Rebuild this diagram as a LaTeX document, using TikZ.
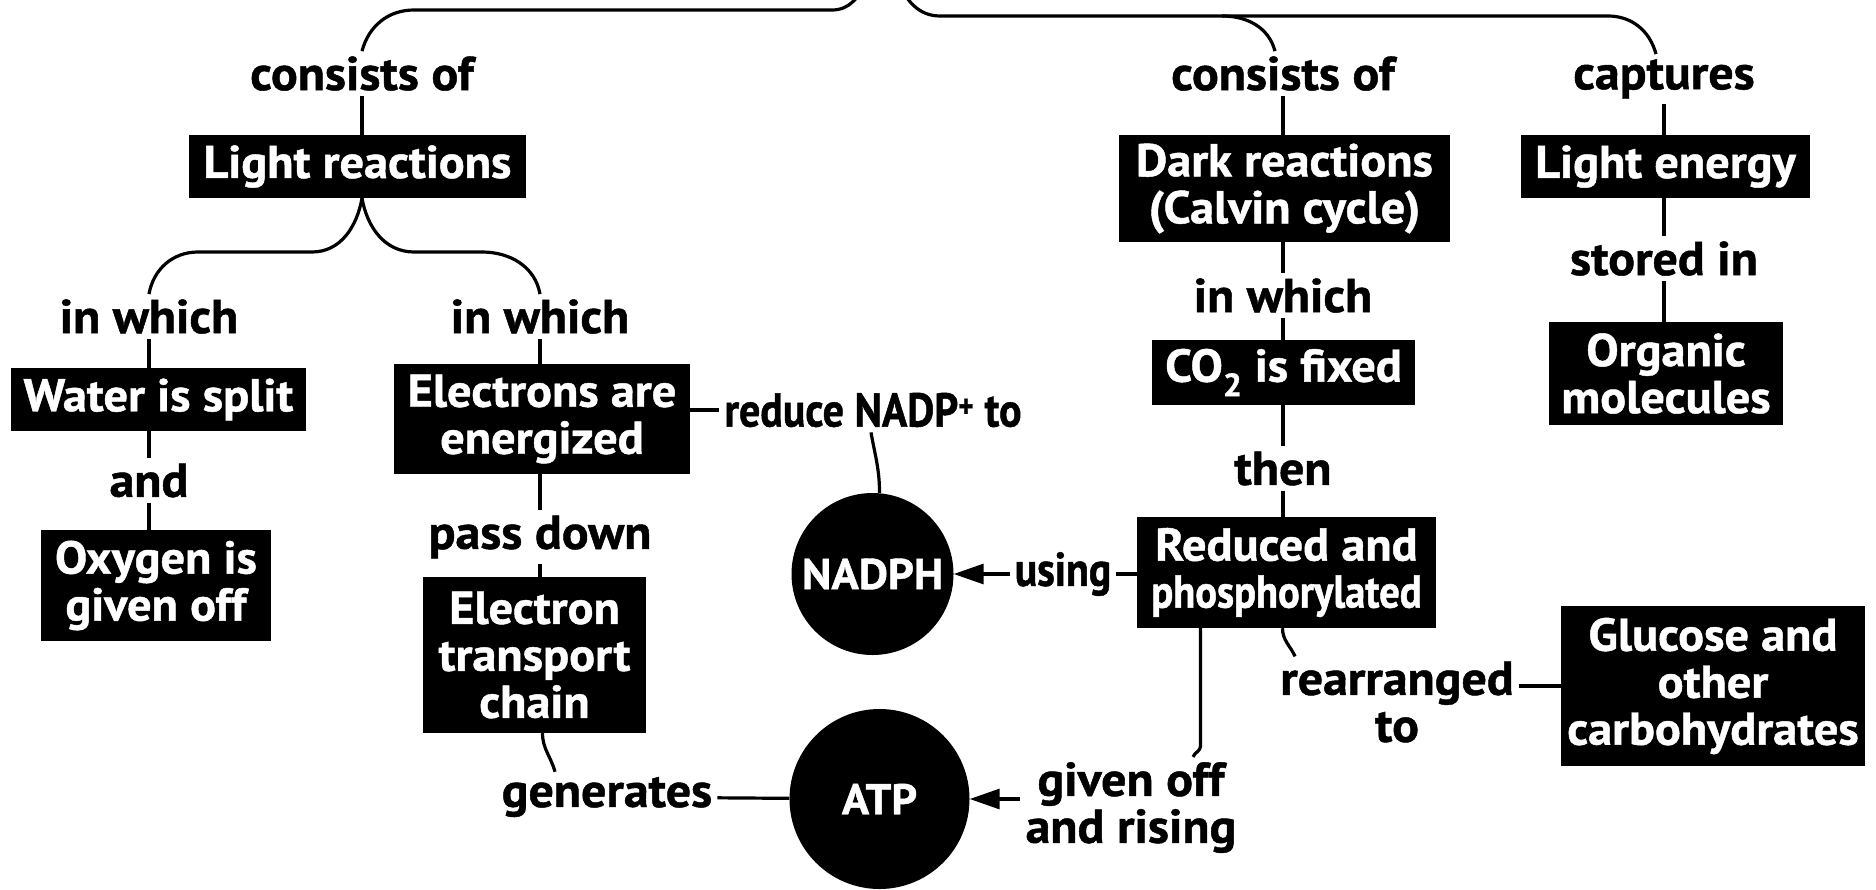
\documentclass[tikz,border=0pt]{standalone}
\usepackage{fontspec}
\setmainfont{PT Sans}[FakeStretch=1.05,BoldFeatures={FakeBold=1.0}]
\newfontfamily\narrowsans{PT Sans}[FakeStretch=0.88,BoldFeatures={FakeBold=1.0}]
\usepackage{tikz}
\usetikzlibrary{arrows.meta}
\newcommand{\mapfont}{\fontsize{47.5}{47}\selectfont\bfseries}
\newcommand{\boxfont}{\fontsize{46}{47}\selectfont\bfseries}
\newcommand{\discfont}{\fontsize{43}{47}\selectfont\bfseries}

\begin{document}
\begin{tikzpicture}[x=1pt,y=-1pt]
\tikzset{concept/.style = {fill=black,text=white,font=\boxfont,align=center,inner xsep=6pt,inner ysep=8.5pt}}
\tikzset{link/.style = {font=\mapfont,align=center,inner sep=5pt}}
\tikzset{disc/.style = {shape=circle,fill=black,text=white,font=\discfont,inner sep=0pt}}
\tikzset{dims/.style 2 args = {minimum width=#1pt,minimum height=#2pt}}
\tikzset{edge/.style = {-,line width=3.2pt,> = {Triangle[length=30pt,width=20pt]}}}

\useasboundingbox (0,0) rectangle (1876,889);
\clip (0,0) rectangle (1876,889);

% concepts
\node[concept,dims={337}{63}]  (light)   at (357.5,166.5) {Light reactions};
\node[concept,dims={295}{63}]  (water)   at (158.5,399.5) {Water is split};
\node[concept,dims={296}{110}] (elec)    at (542,419)     {Electrons are\\energized};
\node[concept,dims={230}{111}] (oxy)     at (156,585.5)   {Oxygen is\\given off};
\node[concept,dims={223}{156}] (etc)     at (534.5,655)   {Electron\\transport\\chain};
\node[concept,dims={331}{107}] (dark)    at (1284.5,188.5){Dark reactions\\(Calvin cycle)};
\node[concept,dims={263}{59}]  (co2)     at (1283.5,372.5){CO\textsubscript{2} is fixed};
\node[concept,dims={299}{111}] (reduc)   at (1286.5,572.5){Reduced and\\{\narrowsans\bfseries phosphorylated}};
\node[concept,dims={289}{63}]  (lighte)  at (1665.5,166.5){Light energy};
\node[concept,dims={234}{103}] (organic) at (1666,373.5)  {Organic\\molecules};
\node[concept,dims={300}{160}] (gluc)    at (1713,686)    {Glucose and\\other\\carbohydrates};

\node[disc,minimum size=162pt] (nadph) at (872.5,574) {NADPH};
\node[disc,minimum size=180pt] (atp)   at (879.5,799) {ATP};

% linking words
\node[link] (cons1)  at (362,73.5)   {consists of};
\node[link] (inw1)   at (149,316.5)  {in which};
\node[link] (inw2)   at (540,316.5)  {in which};
\node[link] (and1)   at (149,480.5)  {and};
\node[link] (pass)   at (540,537)    {pass down};
\node[link] (gen)    at (607,797)    {generates};
\node[link] (redu)   at (873,410)    {\narrowsans\bfseries reduce NADP\textsuperscript{+} to};
\node[link] (using)  at (1063,574)   {\narrowsans\bfseries using};
\node[link] (cons2)  at (1283,73.5)  {consists of};
\node[link] (inw3)   at (1283,295.5) {in which};
\node[link] (then)   at (1283,468.5) {then};
\node[link] (capt)   at (1664,79)    {captures};
\node[link] (stored) at (1664,258.5) {stored in};
\node[link] (rearr)  at (1397,702)   {rearranged\\to};
\node[link] (given)  at (1131,807.5) {given off\\and rising};

\coordinate (topL)  at (866,-20);
\coordinate (topR)  at (898,-20);
\coordinate (forkR) at (1222,16);

% top bracket
\draw[edge] (topL) to[out=-110,in=0] (832,10) -- (414,10) to[out=180,in=75] (cons1.north);
\draw[edge] (topR) to[out=-70,in=180] (940,16) -- (1608,16) to[out=0,in=105] ([xshift=-8pt]capt.north);
\draw[edge] (forkR) to[out=0,in=105] ([xshift=-8pt]cons2.north);

% light reactions
\draw[edge] (cons1) -- (cons1 |- light.north);
\draw[edge] (light.south -| cons1) to[out=-100,in=0] (312,252) -- (198,252) to[out=180,in=80] (inw1.north);
\draw[edge] (light.south -| cons1) to[out=-80,in=180] (414,252) -- (482,252) to[out=0,in=100] (inw2.north);
\draw[edge] (inw1) -- (inw1 |- water.north);
\draw[edge] (and1 |- water.south) -- (and1);
\draw[edge] (and1) -- (and1 |- oxy.north);
\draw[edge] (inw2) -- (inw2 |- elec.north);
\draw[edge] (pass |- elec.south) -- (pass);
\draw[edge] (pass) -- (pass |- etc.north);
\draw[edge] ([xshift=8pt]etc.south) to[out=-90,in=105] ([xshift=-52pt]gen.north);
\draw[edge] (gen) -- (atp);
\draw[edge] (elec.east |- redu) -- (redu);
\draw[edge] ([xshift=-2pt]redu.south) to[out=-80,in=90] ([xshift=7pt]nadph.north);

% dark reactions
\draw[edge] (cons2) -- (cons2 |- dark.north);
\draw[edge] (inw3 |- dark.south) -- (inw3);
\draw[edge] (inw3) -- (inw3 |- co2.north);
\draw[edge] (then |- co2.south) -- (then);
\draw[edge] (then) -- (then |- reduc.north);
\draw[edge] (reduc.west |- using) -- (using);
\draw[edge,->] (using) -- (nadph);
\draw[edge] ([xshift=-4pt]reduc.south) to[out=-90,in=115] ([xshift=20pt]rearr.north west);
\draw[edge] (gluc.west -| rearr.east) -- (gluc.west);
\draw[edge] ([xshift=-86pt]reduc.south) -- ++(0,118) to[out=-90,in=70] ([xshift=62pt]given.north);
\draw[edge,->] (given.west |- atp) -- (atp);

% light energy
\draw[edge] (capt) -- (capt |- lighte.north);
\draw[edge] (stored |- lighte.south) -- (stored);
\draw[edge] (stored) -- (stored |- organic.north);

\end{tikzpicture}
\end{document}
